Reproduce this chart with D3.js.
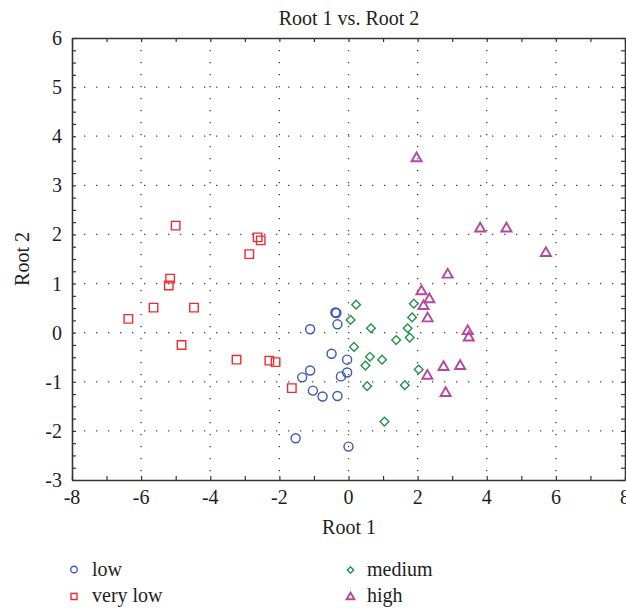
<!DOCTYPE html>
<html><head><meta charset="utf-8">
<script src="https://cdn.jsdelivr.net/npm/d3@7"></script>
<style>
html,body{margin:0;padding:0;background:#fff;}
text{font-family:"Liberation Serif","Times New Roman",serif;fill:#1e1e1e;}
</style></head>
<body><svg id="c" width="626" height="609"></svg>
<script>
const xTicks = [-8,-6,-4,-2,0,2,4,6,8];
const yTicks = [-3,-2,-1,0,1,2,3,4,5,6];
const seriesNames = ["low","very low","medium","high"];
const lowX = [-0.38,-0.35,-0.32,-1.11,-0.49,-0.04,-1.11,-0.04,-0.22,-1.34,-1.03,-0.75,-0.32,-1.53,0.00];
const lowY = [0.41,0.40,0.17,0.07,-0.43,-0.55,-0.77,-0.81,-0.89,-0.91,-1.18,-1.30,-1.29,-2.15,-2.32];
const veryLowX = [-5.00,-2.63,-2.54,-2.87,-5.16,-5.20,-5.64,-4.47,-6.37,-4.83,-3.24,-2.29,-2.11,-1.64];
const veryLowY = [2.18,1.94,1.88,1.60,1.10,0.96,0.51,0.51,0.28,-0.25,-0.55,-0.57,-0.60,-1.13];
const mediumX = [0.22,0.06,0.65,0.16,0.62,0.97,0.49,0.54,1.04,1.38,1.71,1.77,1.84,1.89,1.63,2.03];
const mediumY = [0.57,0.26,0.09,-0.29,-0.49,-0.55,-0.67,-1.09,-1.81,-0.15,0.09,-0.10,0.31,0.59,-1.07,-0.75];
const highX = [1.97,3.81,4.57,5.71,2.87,2.11,2.34,2.17,2.29,3.45,3.48,3.23,2.75,2.28,2.81];
const highY = [3.55,2.12,2.12,1.62,1.18,0.84,0.68,0.54,0.29,0.03,-0.10,-0.68,-0.70,-0.88,-1.23];

const colors = {"low":"#3d58b3","very low":"#ee2b30","medium":"#27904a","high":"#b5479f"};
const shapes = {"low":d3.symbolCircle,"very low":d3.symbolSquare,"medium":d3.symbolSquare,"high":d3.symbolTriangle};
const rot = {"low":0,"very low":0,"medium":45,"high":0};
const strokeW = {"low":1.4,"very low":1.4,"medium":1.4,"high":1.9};
const dataSets = {
  "low": lowX.map((v,i)=>({x:v,y:lowY[i]})),
  "very low": veryLowX.map((v,i)=>({x:v,y:veryLowY[i]})),
  "medium": mediumX.map((v,i)=>({x:v,y:mediumY[i]})),
  "high": highX.map((v,i)=>({x:v,y:highY[i]}))
};

const svg = d3.select("#c");
const L=72,R=625,T=38,B=480;
const x = d3.scaleLinear().domain([-8,8]).range([L,R]);
const y = d3.scaleLinear().domain([-3,6]).range([B,T]);
const axisCol="#333";

// grid
const g = svg.append("g");
g.selectAll(".gx").data(xTicks.filter(v=>v>-8&&v<8)).join("line")
  .attr("x1",d=>x(d)).attr("x2",d=>x(d)).attr("y1",T).attr("y2",B)
  .attr("stroke","#444").attr("stroke-width",1.3).attr("stroke-dasharray","1.3,10.7");
g.selectAll(".gy").data(yTicks.filter(v=>v>-3&&v<6)).join("line")
  .attr("x1",L).attr("x2",R).attr("y1",d=>y(d)).attr("y2",d=>y(d))
  .attr("stroke","#444").attr("stroke-width",1.3).attr("stroke-dasharray","1.3,10.7");

// axes with inward ticks
const xMinor = d3.range(-8,8.01,1);
const yMinor = d3.range(-3,6.01,0.25);
function style(a){a.select(".domain").attr("stroke",axisCol).attr("stroke-width",1.6);a.selectAll("line").attr("stroke",axisCol).attr("stroke-width",1.2);}
svg.append("g").attr("transform",`translate(0,${B})`)
  .call(d3.axisBottom(x).tickValues(xMinor).tickSize(-4).tickFormat("").tickSizeOuter(0)).call(style);
svg.append("g").attr("transform",`translate(0,${T})`)
  .call(d3.axisTop(x).tickValues(xMinor).tickSize(-4).tickFormat("").tickSizeOuter(0)).call(style);
svg.append("g").attr("transform",`translate(${L},0)`)
  .call(d3.axisLeft(y).tickValues(yMinor).tickSize(-4).tickFormat("").tickSizeOuter(0)).call(style);
svg.append("g").attr("transform",`translate(${R},0)`)
  .call(d3.axisRight(y).tickValues(yMinor).tickSize(-4).tickFormat("").tickSizeOuter(0)).call(style);

// tick labels
svg.selectAll(".xl").data(xTicks).join("text")
  .attr("x",d=>x(d)).attr("y",504).attr("text-anchor","middle").attr("font-size",20)
  .text(d=>d);
svg.selectAll(".yl").data(yTicks).join("text")
  .attr("x",62).attr("y",d=>y(d)).attr("dy","0.35em").attr("text-anchor","end").attr("font-size",20)
  .text(d=>d);

// titles
svg.append("text").attr("x",349).attr("y",25).attr("text-anchor","middle").attr("font-size",20).text("Root 1 vs. Root 2");
svg.append("text").attr("x",349).attr("y",534).attr("text-anchor","middle").attr("font-size",20).text("Root 1");
svg.append("text").attr("transform",`translate(29,${y(1.5)}) rotate(-90)`).attr("text-anchor","middle").attr("font-size",20).text("Root 2");

// points
const symSize = {"low":64,"very low":72,"medium":38,"high":44};
seriesNames.forEach(name=>{
  svg.append("g").selectAll("path").data(dataSets[name]).join("path")
    .attr("transform",d=>`translate(${x(d.x)},${y(d.y)}) rotate(${rot[name]})`)
    .attr("d",d3.symbol().type(shapes[name]).size(symSize[name]))
    .attr("fill","none").attr("stroke",colors[name]).attr("stroke-width",strokeW[name]);
});

// legend
const legPos = [
  {name:"low",mx:74,my:569.5,tx:92,ty:576},
  {name:"very low",mx:74,my:596.5,tx:92,ty:602},
  {name:"medium",mx:350.5,my:570,tx:367,ty:576},
  {name:"high",mx:350.5,my:597,tx:367,ty:602}
];
const legSize = {"low":34,"very low":36,"medium":20,"high":26};
legPos.forEach(p=>{
  svg.append("path").attr("transform",`translate(${p.mx},${p.my}) rotate(${rot[p.name]})`)
    .attr("d",d3.symbol().type(shapes[p.name]).size(legSize[p.name]))
    .attr("fill","none").attr("stroke",colors[p.name]).attr("stroke-width",strokeW[p.name]);
  svg.append("text").attr("x",p.tx).attr("y",p.ty).attr("font-size",20).text(p.name);
});
</script></body></html>
